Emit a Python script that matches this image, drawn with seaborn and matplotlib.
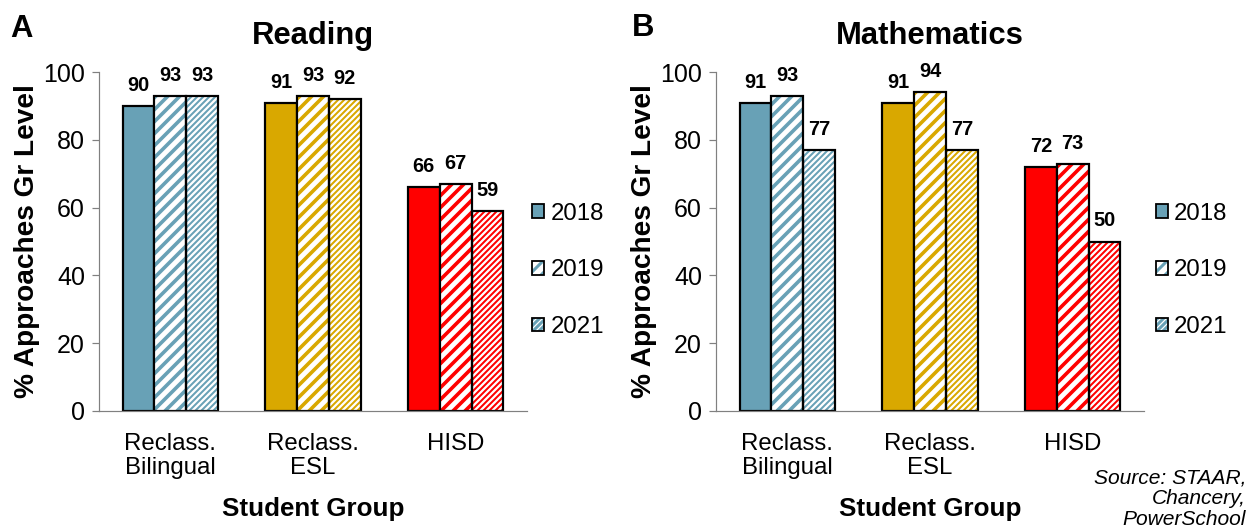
import matplotlib
matplotlib.use("Agg")
import matplotlib.pyplot as plt
from matplotlib.patches import Rectangle, Patch
import seaborn as sns
import pandas as pd

# ---- data ----
groups = ["Reclass.\nBilingual", "Reclass.\nESL", "HISD"]
years = ["2018", "2019", "2021"]
reading_2018 = [90, 91, 66]
reading_2019 = [93, 93, 67]
reading_2021 = [93, 92, 59]
math_2018 = [91, 91, 72]
math_2019 = [93, 94, 73]
math_2021 = [77, 77, 50]

group_colors = ["#68A1B6", "#D9A800", "#FF0000"]
hatches = {"2019": ("//", 3.6), "2021": ("////", 2.0)}

sns.set_style("white")
plt.rcParams["font.family"] = ["Liberation Sans", "DejaVu Sans"]
plt.rcParams["hatch.linewidth"] = 3.0
for k in ["text.color", "axes.labelcolor", "xtick.labelcolor", "ytick.labelcolor"]:
    plt.rcParams[k] = "black"

DPI = 72
W, H = 1255, 531
fig = plt.figure(figsize=(W / DPI, H / DPI), dpi=DPI)

ax1 = fig.add_axes([99 / W, 120 / H, 428 / W, 339 / H])
ax2 = fig.add_axes([716 / W, 120 / H, 428 / W, 339 / H])


def make_df(v18, v19, v21):
    rows = []
    for yr, vals in zip(years, [v18, v19, v21]):
        for g, v in zip(groups, vals):
            rows.append({"group": g, "year": yr, "value": v})
    return pd.DataFrame(rows)


def hatched(color, yr, lw):
    hatch, hlw = hatches[yr]
    p = Patch(facecolor="white", edgecolor=color, hatch=hatch, linewidth=0)
    if hasattr(p, "set_hatch_linewidth"):
        p.set_hatch_linewidth(hlw * 0.6)
    o = Patch(facecolor="none", edgecolor="black", linewidth=lw)
    return (p, o)


def draw(ax, df, title, legend_x):
    sns.barplot(data=df, x="group", y="value", hue="year", order=groups,
                hue_order=years, ax=ax, width=0.67, errorbar=None,
                palette=["#888888"] * 3, saturation=1, legend=False)
    for h, cont in enumerate(ax.containers):
        yr = years[h]
        for i, p in enumerate(cont.patches):
            col = group_colors[i]
            if yr == "2018":
                p.set_facecolor(col)
                p.set_edgecolor("black")
                p.set_linewidth(2.2)
            else:
                hatch, hlw = hatches[yr]
                p.set_facecolor("white")
                p.set_edgecolor(col)
                p.set_linewidth(0)
                p.set_hatch(hatch)
                if hasattr(p, "set_hatch_linewidth"):
                    p.set_hatch_linewidth(hlw)
                ax.add_patch(Rectangle(p.get_xy(), p.get_width(), p.get_height(),
                                       fill=False, edgecolor="black", linewidth=2.2,
                                       zorder=p.get_zorder() + 0.1))
        ax.bar_label(cont, padding=11, fontsize=20, fontweight="bold")

    ax.set_ylim(0, 100)
    ax.set_xlim(-0.5, 2.5)
    ax.set_yticks(range(0, 101, 20))
    ax.set_xticks(range(len(groups)))
    ax.set_xticklabels(groups, fontsize=24, linespacing=1.1)
    ax.set_xticks([-0.5, 0.5, 1.5, 2.5], minor=True)
    ax.tick_params(axis="x", which="major", length=0, pad=22)
    ax.tick_params(axis="x", which="minor", length=7, width=1.2, color="#808080", direction="out")
    ax.tick_params(axis="y", which="major", length=7, width=1.2, color="#808080",
                   direction="out", labelsize=25, pad=7, left=True)
    for s in ["top", "right"]:
        ax.spines[s].set_visible(False)
    for s in ["left", "bottom"]:
        ax.spines[s].set_color("#808080")
        ax.spines[s].set_linewidth(1.2)
    ax.set_xlabel("Student Group", fontsize=26, fontweight="bold", labelpad=18)
    ax.set_ylabel("% Approaches Gr Level", fontsize=28, fontweight="bold", labelpad=3)
    ax.set_title(title, fontsize=31, fontweight="bold", pad=28)
    ax.grid(False)

    handles = []
    for yr in years:
        if yr == "2018":
            handles.append(Patch(facecolor=group_colors[0], edgecolor="black", linewidth=1.8))
        else:
            handles.append(hatched(group_colors[0], yr, 1.8))
    ax.legend(handles, years, loc="center left", bbox_to_anchor=(legend_x, 0.415),
              frameon=False, fontsize=24, handlelength=0.5, handleheight=0.5,
              handletextpad=0.25, labelspacing=1.45, borderaxespad=0)


draw(ax1, make_df(reading_2018, reading_2019, reading_2021), "Reading", 0.99)
draw(ax2, make_df(math_2018, math_2019, math_2021), "Mathematics", 1.005)

fig.text(10 / W, 1 - 37 / H, "A", fontsize=31, fontweight="bold", va="baseline", ha="left")
fig.text(632 / W, 1 - 36 / H, "B", fontsize=31, fontweight="bold", va="baseline", ha="left")
fig.text(1246 / W, 1 - 468 / H, "Source: STAAR,\nChancery,\nPowerSchool", fontsize=21,
         fontstyle="italic", ha="right", va="top", linespacing=1.12)

fig.savefig("out.png", dpi=DPI)
